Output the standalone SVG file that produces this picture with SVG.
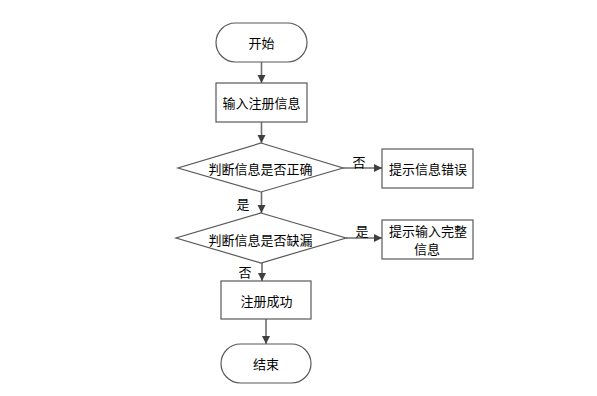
<svg xmlns="http://www.w3.org/2000/svg" width="597" height="396" viewBox="0 0 597 396">
<style>
.shape{fill:#fff;stroke:#595959;stroke-width:1.2}
.line{fill:none;stroke:#6e6e6e;stroke-width:1.6}
text{font-family:"Noto Sans CJK SC","Liberation Sans",sans-serif;font-size:13px;fill:#000;text-anchor:middle;dominant-baseline:central}
</style>
<defs>
<marker id="arr" markerWidth="10" markerHeight="10" refX="9" refY="5" orient="auto" markerUnits="userSpaceOnUse">
<path d="M1,1 L9,5 L1,9 Z" fill="#404040"/>
</marker>
</defs>
<rect width="597" height="396" fill="#fff"/>
<g id="connectors">
<line class="line" x1="261.5" y1="62" x2="261.5" y2="83" marker-end="url(#arr)"/>
<line class="line" x1="261.5" y1="122" x2="261.5" y2="143" marker-end="url(#arr)"/>
<line class="line" x1="343" y1="168" x2="382" y2="168" marker-end="url(#arr)"/>
<line class="line" x1="261.5" y1="192" x2="261.5" y2="213" marker-end="url(#arr)"/>
<line class="line" x1="346" y1="238" x2="382" y2="238" marker-end="url(#arr)"/>
<line class="line" x1="262" y1="263" x2="262" y2="281" marker-end="url(#arr)"/>
<line class="line" x1="266" y1="319" x2="266" y2="344" marker-end="url(#arr)"/>
<text x="359" y="161">否</text>
<text x="243" y="203">是</text>
<text x="362" y="230">是</text>
<text x="245" y="271">否</text>
</g>
<g id="start">
<rect class="shape" x="216" y="23" width="91" height="39" rx="19.5"/>
<text x="261.5" y="42.5">开始</text>
</g>
<g id="input">
<rect class="shape" x="216" y="83" width="91" height="39"/>
<text x="261.5" y="102.5">输入注册信息</text>
</g>
<g id="check1">
<polygon class="shape" points="261,143 343,168 261,192 178,168"/>
<text x="260.5" y="168.5">判断信息是否正确</text>
</g>
<g id="err1">
<rect class="shape" x="382" y="149" width="91" height="39"/>
<text x="428" y="168.5">提示信息错误</text>
</g>
<g id="check2">
<polygon class="shape" points="261,213 346,238 261,263 176,238"/>
<text x="260.5" y="239">判断信息是否缺漏</text>
</g>
<g id="err2">
<rect class="shape" x="382" y="220" width="91" height="39"/>
<text x="428" y="230.5">提示输入完整</text>
<text x="427" y="248.5">信息</text>
</g>
<g id="success">
<rect class="shape" x="221" y="281" width="90" height="38"/>
<text x="266.5" y="300">注册成功</text>
</g>
<g id="end">
<rect class="shape" x="221" y="344" width="90" height="39" rx="19.5"/>
<text x="266" y="363.5">结束</text>
</g>
</svg>
